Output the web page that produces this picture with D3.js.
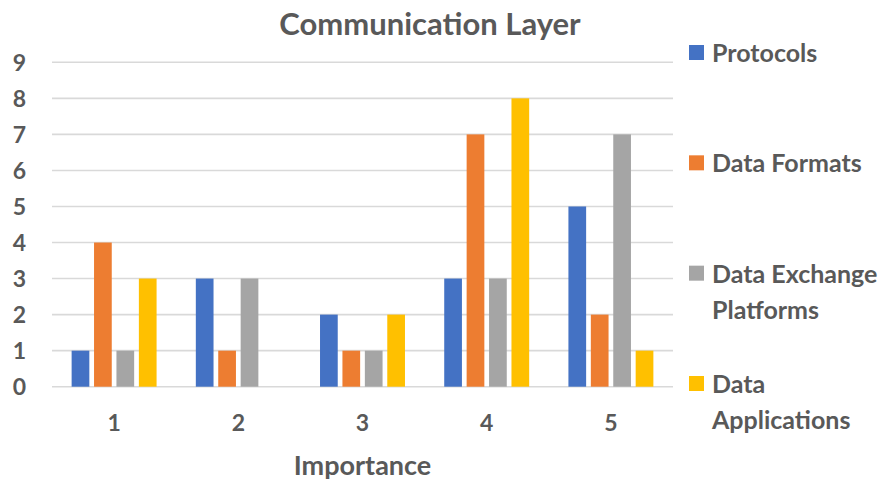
<!DOCTYPE html>
<html><head><meta charset="utf-8">
<script src="https://cdn.jsdelivr.net/npm/d3@7"></script>
<style>body{margin:0;background:#fff}svg{display:block}text{font-family:Lato,"Open Sans",sans-serif;font-weight:bold;fill:#595959}</style>
</head><body>
<svg id="c" width="883" height="482"></svg>
<script>
const categories = ["1","2","3","4","5"];
const seriesNames = ["Protocols","Data Formats","Data Exchange Platforms","Data Applications"];
const legendLines = [["Protocols"],["Data Formats"],["Data Exchange","Platforms"],["Data","Applications"]];
const protocols = [1,3,2,3,5];
const dataFormats = [4,1,1,7,2];
const dataExchange = [1,3,1,3,7];
const dataApplications = [3,0,2,8,1];
const yTicks = [0,1,2,3,4,5,6,7,8,9];
const colors = ["#4472C4","#ED7D31","#A5A5A5","#FFC000"];
const title = "Communication Layer";
const xTitle = "Importance";

const values = [protocols, dataFormats, dataExchange, dataApplications];
const svg = d3.select("#c");
const L = 52, R = 673, T = 62.3, B = 386.7;

const x0 = d3.scaleBand().domain(categories).range([L,R]).paddingInner(0.316).paddingOuter(0.158);
const x1 = d3.scaleBand().domain(seriesNames).range([0,x0.bandwidth()]).paddingInner(0.21);
const y = d3.scaleLinear().domain([0,9]).range([B,T]);

// gridlines
svg.append("g").selectAll("line").data(yTicks).join("line")
  .attr("x1",L).attr("x2",R).attr("y1",d=>y(d)).attr("y2",d=>y(d))
  .attr("stroke","#D9D9D9").attr("stroke-width",1.6);

// y tick labels
svg.append("g").selectAll("text").data(yTicks).join("text")
  .attr("x",26).attr("y",d=>y(d)).attr("dy","0.36em").attr("text-anchor","end")
  .attr("font-size",23).text(d=>d);

// bars
const g = svg.append("g");
categories.forEach((c,ci)=>{
  seriesNames.forEach((s,si)=>{
    const v = values[si][ci];
    g.append("rect").attr("x",x0(c)+x1(s)).attr("width",x1.bandwidth())
      .attr("y",y(v)).attr("height",y(0)-y(v)).attr("fill",colors[si]);
  });
});

// x tick labels
svg.append("g").selectAll("text").data(categories).join("text")
  .attr("x",d=>x0(d)+x0.bandwidth()/2).attr("y",423).attr("dy","0.36em")
  .attr("text-anchor","middle").attr("font-size",23).text(d=>d);

// axis title
svg.append("text").attr("x",(L+R)/2).attr("y",465).attr("dy","0.36em")
  .attr("text-anchor","middle").attr("font-size",27).text(xTitle);

// title
svg.append("text").attr("x",430).attr("y",24).attr("dy","0.36em")
  .attr("text-anchor","middle").attr("font-size",31).text(title);

// legend
const ly = d3.scalePoint().domain(seriesNames).range([53,384]);
const lg = svg.append("g");
seriesNames.forEach((s,i)=>{
  lg.append("rect").attr("x",689).attr("y",ly(s)-8).attr("width",15).attr("height",15).attr("fill",colors[i]);
  legendLines[i].forEach((t,j)=>{
    lg.append("text").attr("x",712).attr("y",ly(s)+j*36).attr("dy","0.36em")
      .attr("font-size",25).text(t);
  });
});
</script>
</body></html>
